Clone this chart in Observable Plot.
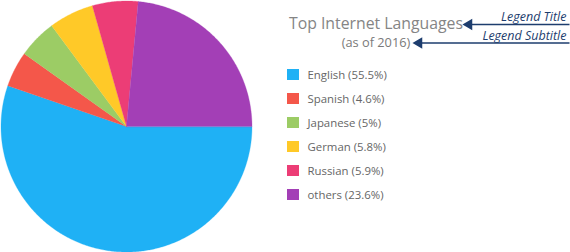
<!DOCTYPE html>
<html>
<head>
<meta charset="utf-8">
<script src="https://cdn.jsdelivr.net/npm/d3@7"></script>
<script src="https://cdn.jsdelivr.net/npm/@observablehq/plot@0.6"></script>
<style>
  html, body { margin: 0; padding: 0; background: #fff; }
  #chart svg { display: block; }
</style>
</head>
<body>
<div id="chart"></div>
<script>
// ---- data ----
const languages = ["English", "Spanish", "Japanese", "German", "Russian", "others"];
const shares = [55.5, 4.6, 5, 5.8, 5.9, 23.6];
const sliceColors = ["#1fb1f5", "#f4574a", "#9ccc65", "#ffc928", "#ec3d76", "#a33fb6"];
const legendTitle = "Top Internet Languages";
const legendSubtitle = "(as of 2016)";
const annotations = ["Legend Title", "Legend Subtitle"];

// ---- layout constants ----
const W = 570, H = 252;
const cx = 126, cy = 126, R = 125.5;

// pie geometry from the data (clockwise, starting at 3 o'clock)
const arcs = d3.pie().sort(null).startAngle(Math.PI / 2).endAngle(Math.PI / 2 + 2 * Math.PI)(shares);
const piePoints = [];
arcs.forEach((a, i) => {
  const lang = languages[i];
  piePoints.push({lang, x: cx, y: cy});
  const n = Math.max(2, Math.ceil((a.endAngle - a.startAngle) / 0.01));
  for (let k = 0; k <= n; k++) {
    const t = a.startAngle + (a.endAngle - a.startAngle) * k / n;
    piePoints.push({lang, x: cx + R * Math.sin(t), y: cy - R * Math.cos(t)});
  }
});

const legend = languages.map((lang, i) => ({
  lang, i, label: `${lang} (${shares[i]}%)`
}));
const rowY = i => 74.5 + i * 24;

const titleX = 375.5;
const notes = [
  {text: annotations[0], y: 16, arrowY: 24, tipX: 465},
  {text: annotations[1], y: 35, arrowY: 42.5, tipX: 415}
];
const noteColor = "#1d3d6e";

const chart = Plot.plot({
  width: W,
  height: H,
  margin: 0,
  x: {domain: [0, W], range: [0, W], axis: null},
  y: {domain: [0, H], range: [0, H], axis: null},
  color: {domain: languages, range: sliceColors},
  style: {fontFamily: "'Open Sans', sans-serif", background: "#fff"},
  marks: [
    Plot.line(piePoints, {x: "x", y: "y", z: "lang", fill: "lang", stroke: "lang", strokeWidth: 0.3, curve: "linear-closed"}),
    // legend swatches
    Plot.rect(legend, {x1: 287, x2: 299, y1: d => rowY(d.i) - 5.5, y2: d => rowY(d.i) + 5.5, fill: "lang"}),
    Plot.text(legend, {x: 307, y: d => rowY(d.i), text: "label", textAnchor: "start", lineAnchor: "middle", fontSize: 11.4, fill: "#666"}),
    // legend title / subtitle
    Plot.text([legendTitle], {x: titleX, y: 23, text: d => d, textAnchor: "middle", lineAnchor: "middle", fontSize: 15.8, fill: "#858585"}),
    Plot.text([legendSubtitle], {x: titleX, y: 42, text: d => d, textAnchor: "middle", lineAnchor: "middle", fontSize: 12.8, fill: "#7a7a7a"}),
    // annotations
    Plot.link(notes, {x1: 569, x2: d => d.tipX + 5, y1: "arrowY", y2: "arrowY", stroke: noteColor, strokeWidth: 1.3}),
    Plot.dot(notes, {x: d => d.tipX + 3.5, y: "arrowY", symbol: "triangle", r: 4.2, rotate: -90, fill: noteColor, stroke: "none"}),
    Plot.text(notes, {x: 566, y: "y", text: "text", textAnchor: "end", lineAnchor: "middle", fontSize: 12.5, fontStyle: "italic", fill: noteColor})
  ]
});
document.getElementById("chart").appendChild(chart);
</script>
</body>
</html>
